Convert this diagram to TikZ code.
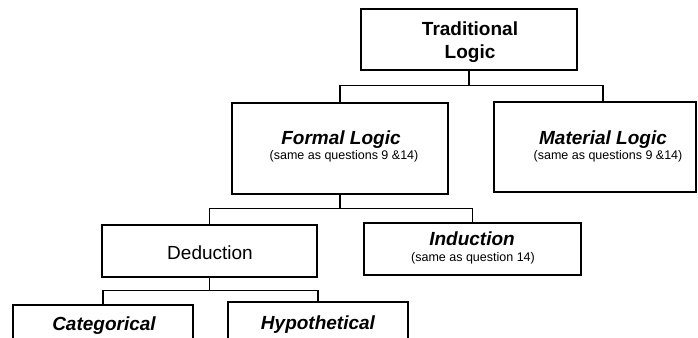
\documentclass[tikz,border=0pt]{standalone}
\usepackage{fontspec}
\setmainfont{Liberation Sans}
\begin{document}
\begin{tikzpicture}[x=1pt,y=-1pt,
  box/.style={draw, line width=1.3pt, rectangle, inner sep=0pt, outer sep=0pt},
  conn/.style={line width=1.3pt},
  head/.style={font=\fontsize{19}{23}\selectfont\bfseries\itshape, inner sep=0pt, anchor=base},
  sub/.style={font=\fontsize{12.5}{14}\selectfont, inner sep=0pt, anchor=base},
  plaintext/.style={font=\fontsize{19}{23}\selectfont, inner sep=0pt, anchor=base}]
\useasboundingbox (0,0) rectangle (698,337);
\clip (0,0) rectangle (698,337);

% boxes
\node[box, minimum width=216pt, minimum height=61pt] (trad) at (469,39.5) {};
\node[box, minimum width=216pt, minimum height=91pt] (formal) at (340,148.5) {};
\node[box, minimum width=202pt, minimum height=90pt] (material) at (595,147) {};
\node[box, minimum width=215pt, minimum height=52pt] (deduction) at (209.5,251) {};
\node[box, minimum width=217pt, minimum height=52pt] (induction) at (472.5,249) {};
\node[box, minimum width=180pt, minimum height=56pt] (categorical) at (103,333) {};
\node[box, minimum width=180pt, minimum height=58pt] (hypothetical) at (318,331) {};

% texts
\node[font=\fontsize{19}{22.5}\selectfont\bfseries, align=center, inner sep=0pt] (tradtext) at (470,42) {Traditional\\Logic};
\node[head] (formalhead) at (341,144) {Formal Logic};
\node[sub] (formalsub) at (344,159.5) {(same as questions 9 \&14)};
\node[head] (materialhead) at (603,144) {Material Logic};
\node[sub] (materialsub) at (608,159.5) {(same as questions 9 \&14)};
\node[plaintext] (deductiontext) at (210,259.5) {Deduction};
\node[head] (inductionhead) at (472,245.5) {Induction};
\node[sub] (inductionsub) at (473,261) {(same as question 14)};
\node[head] (categoricaltext) at (104,330) {Categorical};
\node[head] (hypotheticaltext) at (318,329) {Hypothetical};

% connectors
\draw[conn] (trad.south) -- ++(0,15.5) coordinate (j1);
\draw[conn] (formal.north) |- (j1);
\draw[conn] ([xshift=8pt]material.north) |- (j1);

\draw[conn] (formal.south) -- ++(0,14.5) coordinate (j2);
\draw[conn] (deduction.north) |- (j2);
\draw[conn] (induction.north) |- (j2);

\draw[conn] (deduction.south) -- ++(0,13.5) coordinate (j3);
\draw[conn] (categorical.north) |- (j3);
\draw[conn] (hypothetical.north) |- (j3);
\end{tikzpicture}
\end{document}
